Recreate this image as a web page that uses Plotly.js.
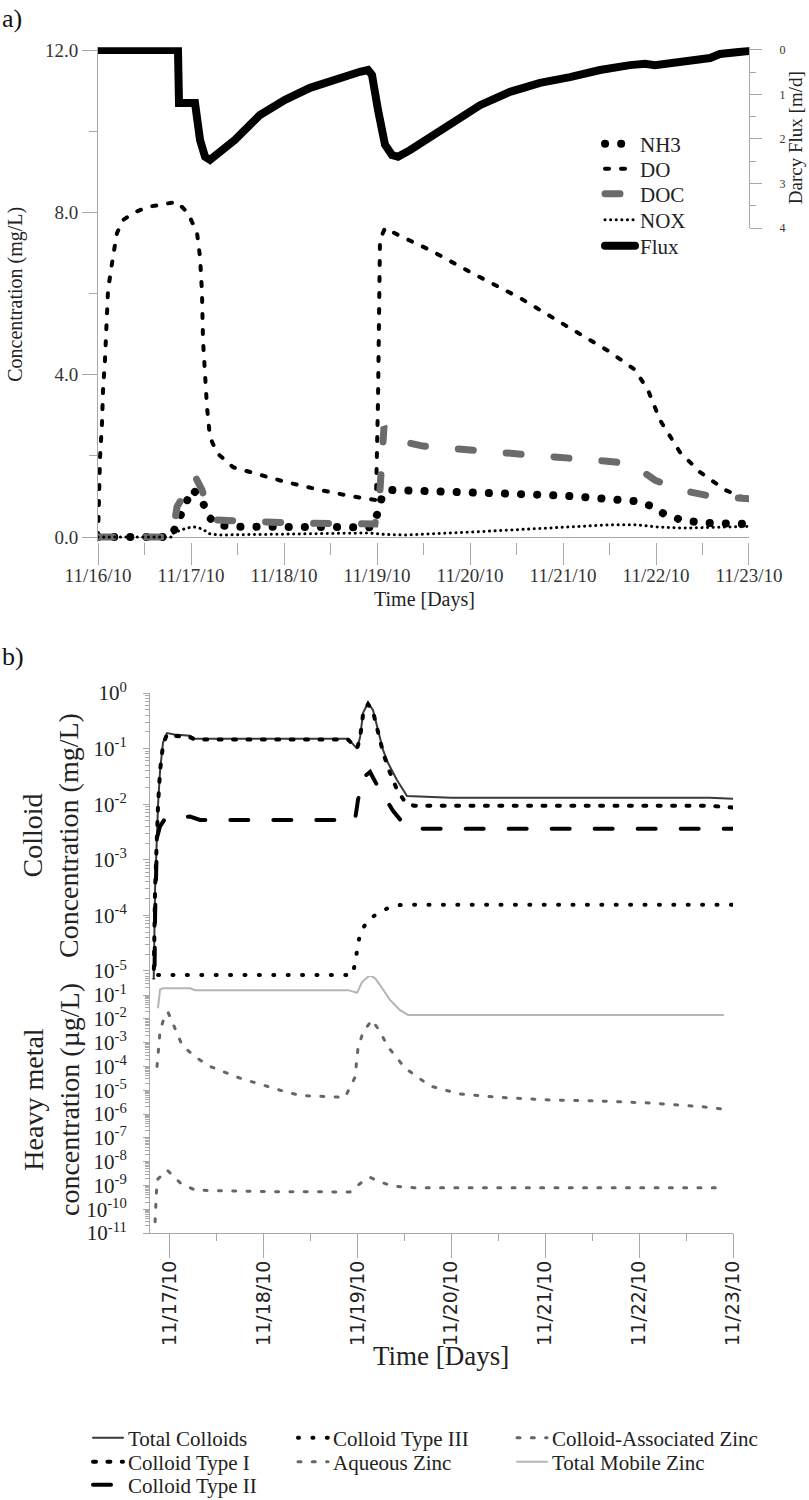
<!DOCTYPE html>
<html>
<head>
<meta charset="utf-8">
<script src="https://cdn.plot.ly/plotly-3.0.1.min.js"></script>
<style>
html,body{margin:0;padding:0;background:#fff;}
#chart{width:809px;height:1500px;}
.js-line{stroke-linecap:round;}
</style>
</head>
<body>
<div id="chart"></div>
<script>
// ---------- Panel a) : days since 11/16/10 ----------
const tickDaysA = [0,1,2,3,4,5,6,7];
const tickLabelsA = ['11/16/10','11/17/10','11/18/10','11/19/10','11/20/10','11/21/10','11/22/10','11/23/10'];
const concTickVals = [0,4,8,12];
const concTickText = ['0.0','4.0','8.0','12.0'];
const fluxTickVals = [0,1,2,3,4];

const fluxDays = [0,0.86,0.871,1.043,1.097,1.151,1.204,1.312,1.473,1.742,2.011,2.280,2.548,2.817,2.903,2.946,3.011,3.086,3.161,3.226,3.355,3.570,3.839,4.108,4.430,4.753,5.075,5.398,5.720,5.882,5.989,6.258,6.473,6.581,6.688,7.0];
const fluxVals = [0,0,1.19,1.19,2.02,2.40,2.47,2.31,2.02,1.46,1.12,0.85,0.65,0.49,0.45,0.56,1.35,2.13,2.36,2.40,2.25,1.96,1.57,1.24,0.94,0.74,0.61,0.45,0.34,0.31,0.34,0.25,0.20,0.18,0.09,0.02];

const doDays = [0,0.011,0.022,0.043,0.054,0.075,0.097,0.108,0.161,0.204,0.269,0.376,0.527,0.667,0.849,0.968,1.065,1.097,1.118,1.129,1.172,1.204,1.280,1.452,1.667,2.011,2.387,2.710,2.989,3.011,3.032,3.086,3.247,3.570,4.0,4.538,5.022,5.505,5.774,5.914,6.043,6.258,6.473,6.742,7.0];
const doVals = [0,1.23,1.97,2.81,3.62,4.36,5.27,6.09,6.90,7.49,7.81,7.98,8.13,8.18,8.26,7.98,7.49,6.90,6.04,4.85,3.20,2.46,2.07,1.72,1.58,1.36,1.16,1.01,0.91,3.38,7.32,7.61,7.42,7.07,6.53,5.89,5.22,4.56,4.12,3.62,2.88,2.09,1.60,1.16,0.91];

const nh3Days = [0,0.774,0.806,1.011,1.118,1.172,1.280,1.452,2.0,2.5,2.946,3.0,3.054,3.118,3.5,4.0,4.5,5.0,5.5,5.8,5.95,6.1,6.3,6.6,7.0];
const nh3Vals = [0,0,0.1,1.18,0.94,0.54,0.30,0.25,0.25,0.24,0.24,0.55,0.99,1.16,1.12,1.10,1.06,1.02,0.96,0.88,0.76,0.55,0.40,0.34,0.32];

const docDays = [0,0.80,0.849,0.903,1.043,1.118,1.204,1.258,1.527,2.172,2.978,3.032,3.075,3.194,3.495,4.022,4.516,5.054,5.559,5.774,5.989,6.258,6.581,7.0];
const docVals = [0,0,0.74,0.96,1.50,1.16,0.54,0.42,0.39,0.34,0.32,1.16,2.71,2.39,2.24,2.14,2.05,1.95,1.85,1.75,1.40,1.16,1.01,0.94];

const noxDays = [0,0.80,0.81,0.95,1.03,1.12,1.20,1.30,2.0,2.9,3.1,3.3,4.0,4.5,5.0,5.5,5.8,6.0,6.3,6.7,7.0];
const noxVals = [0,0,0.10,0.22,0.25,0.20,0.08,0.05,0.07,0.10,0.06,0.05,0.12,0.18,0.24,0.30,0.30,0.25,0.22,0.24,0.26];

// ---------- Panel b) : days since 11/16/10 ----------
const tickDaysB = [1,2,3,4,5,6,7];
const tickLabelsB = ['11/17/10','11/18/10','11/19/10','11/20/10','11/21/10','11/22/10','11/23/10'];
const colloidTickVals = [1,1e-1,1e-2,1e-3,1e-4,1e-5];
const colloidTickText = ['10<sup>0</sup>','10<sup>-1</sup>','10<sup>-2</sup>','10<sup>-3</sup>','10<sup>-4</sup>','10<sup>-5</sup>'];
const metalTickVals = [1e-1,1e-2,1e-3,1e-4,1e-5,1e-6,1e-7,1e-8,1e-9,1e-10,1e-11];
const metalTickText = ['10<sup>-1</sup>','10<sup>-2</sup>','10<sup>-3</sup>','10<sup>-4</sup>','10<sup>-5</sup>','10<sup>-6</sup>','10<sup>-7</sup>','10<sup>-8</sup>','10<sup>-9</sup>','10<sup>-10</sup>','10<sup>-11</sup>'];

const totalColloidDays = [0.824,0.846,0.878,0.899,0.931,0.973,1.05,1.218,1.272,2.0,2.901,2.997,3.029,3.061,3.114,3.167,3.220,3.274,3.327,3.423,3.529,4.0,5.0,6.0,6.75,7.0];
const totalColloidVals = [1e-6,3e-4,0.01,0.04,0.13,0.19,0.18,0.17,0.15,0.15,0.15,0.10,0.16,0.44,0.66,0.49,0.22,0.094,0.055,0.027,0.014,0.013,0.013,0.013,0.013,0.0125];

const typeIDays = [0.824,0.846,0.878,0.899,0.931,0.973,1.05,1.218,1.272,2.0,2.901,2.997,3.029,3.061,3.114,3.167,3.220,3.274,3.327,3.423,3.508,3.60,5.0,6.75,7.0];
const typeIVals = [1e-6,3e-4,0.01,0.04,0.12,0.18,0.17,0.16,0.145,0.145,0.145,0.10,0.155,0.42,0.63,0.46,0.20,0.085,0.045,0.018,0.011,0.0094,0.0094,0.0094,0.0087];

const typeIIDays = [0.824,0.846,0.867,0.899,0.952,1.218,1.325,2.0,2.975,3.007,3.061,3.135,3.210,3.380,3.476,3.700,5.0,7.0];
const typeIIVals = [1e-8,1e-4,2.5e-3,4e-3,5.5e-3,6e-3,5.2e-3,5.2e-3,5.2e-3,0.012,0.03,0.038,0.022,0.0076,0.0048,0.0036,0.0036,0.0036];

const typeIIIDays = [0.878,2.0,2.950,2.975,3.029,3.114,3.242,3.380,3.50,7.0];
const typeIIIVals = [8.5e-6,8.5e-6,8.5e-6,1.4e-5,4.8e-5,8.3e-5,1.15e-4,1.5e-4,1.55e-4,1.55e-4];

const mobileZnDays = [0.878,0.899,0.931,1.218,1.272,2.0,2.901,2.997,3.050,3.135,3.189,3.242,3.348,3.454,3.540,5.0,6.895];
const mobileZnVals = [0.03,0.17,0.19,0.19,0.16,0.16,0.16,0.125,0.35,0.69,0.5,0.26,0.062,0.023,0.0145,0.0145,0.0145];

const aqueousZnDays = [0.867,0.899,0.952,0.984,1.133,1.272,1.431,1.751,2.177,2.390,2.869,2.975,3.007,3.061,3.157,3.242,3.327,3.508,3.774,4.094,4.520,5.052,5.585,6.117,6.682,6.895];
const aqueousZnVals = [1e-4,3e-3,0.015,0.019,8e-4,2.5e-4,1e-4,3.2e-5,1e-5,6e-6,5e-6,3.5e-5,6e-4,2.8e-3,9e-3,2.8e-3,6.6e-4,8.5e-5,1.5e-5,6.9e-6,5e-6,3.9e-6,3.5e-6,2.9e-6,2e-6,1.6e-6];

const colloidZnDays = [0.846,0.867,0.973,1.112,1.272,2.0,2.922,3.050,3.135,3.242,3.380,3.6,5.0,6.895];
const colloidZnVals = [3e-11,1.7e-9,4.5e-9,1.3e-9,6.3e-10,5.5e-10,5.3e-10,1.4e-9,2.2e-9,1.4e-9,9.3e-10,8e-10,8e-10,8e-10];

// minor log ticks (2..9 x 10^k)
function minorLogTicks(kMin, kMax) {
  const out = [];
  for (let k = kMin; k <= kMax; k++) for (let m = 2; m <= 9; m++) out.push(m * Math.pow(10, k));
  return out;
}

const SERIF = 'Liberation Serif, Times New Roman, serif';
const AX = '#a8a8a8';

// one legend box per entry so that each entry sits where the reference puts it
function legendAt(px, py, size) {
  return {
    x: px / 809, y: 1 - py / 1500, xanchor: 'left', yanchor: 'middle',
    bgcolor: 'rgba(0,0,0,0)', borderwidth: 0, itemwidth: 30,
    font: {family: SERIF, size: size, color: '#222'}
  };
}

const traces = [
  {x: nh3Days, y: nh3Vals, name: 'NH3', mode: 'lines', xaxis: 'x', yaxis: 'y', legend: 'legend',
   line: {color: '#000', width: 8, dash: '0.1px,16px'}},
  {x: doDays, y: doVals, name: 'DO', mode: 'lines', xaxis: 'x', yaxis: 'y', legend: 'legend2',
   line: {color: '#000', width: 4, dash: '4px,12px'}},
  {x: docDays, y: docVals, name: 'DOC', mode: 'lines', xaxis: 'x', yaxis: 'y', legend: 'legend3',
   line: {color: '#6b6b6b', width: 7, dash: '15px,33px'}},
  {x: noxDays, y: noxVals, name: 'NOX', mode: 'lines', xaxis: 'x', yaxis: 'y', legend: 'legend4',
   line: {color: '#000', width: 3, dash: '0.1px,5.5px'}},
  {x: fluxDays, y: fluxVals, name: 'Flux', mode: 'lines', xaxis: 'x', yaxis: 'y2', legend: 'legend5',
   line: {color: '#000', width: 8}},

  {x: totalColloidDays, y: totalColloidVals, name: 'Total Colloids', mode: 'lines', xaxis: 'x3', yaxis: 'y3',
   legend: 'legend6', line: {color: '#3a3a3a', width: 2}},
  {x: typeIIIDays, y: typeIIIVals, name: 'Colloid Type III', mode: 'lines', xaxis: 'x3', yaxis: 'y3',
   legend: 'legend7', line: {color: '#000', width: 4, dash: '1px,13.4px'}},
  {x: colloidZnDays, y: colloidZnVals, name: 'Colloid-Associated Zinc', mode: 'lines', xaxis: 'x3', yaxis: 'y4',
   legend: 'legend8', line: {color: '#666', width: 3, dash: '3px,11.3px'}},
  {x: typeIDays, y: typeIVals, name: 'Colloid Type I', mode: 'lines', xaxis: 'x3', yaxis: 'y3',
   legend: 'legend9', line: {color: '#000', width: 4, dash: '3px,11.4px'}},
  {x: aqueousZnDays, y: aqueousZnVals, name: 'Aqueous Zinc', mode: 'lines', xaxis: 'x3', yaxis: 'y4',
   legend: 'legend10', line: {color: '#666', width: 3, dash: '3px,11.3px'}},
  {x: mobileZnDays, y: mobileZnVals, name: 'Total Mobile Zinc', mode: 'lines', xaxis: 'x3', yaxis: 'y4',
   legend: 'legend11', line: {color: '#b5b5b5', width: 2}},
  {x: typeIIDays, y: typeIIVals, name: 'Colloid Type II', mode: 'lines', xaxis: 'x3', yaxis: 'y3',
   legend: 'legend12', line: {color: '#000', width: 4, dash: '18px,25px'}}
];

const layout = {
  width: 809, height: 1500,
  margin: {l: 0, r: 0, t: 0, b: 0, autoexpand: false},
  paper_bgcolor: '#fff', plot_bgcolor: 'rgba(0,0,0,0)',
  font: {family: SERIF, color: '#222'},
  xaxis: {
    domain: [0.12114, 0.92583], range: [0, 7], anchor: 'y', automargin: false,
    tickmode: 'array', tickvals: tickDaysA, ticktext: tickLabelsA,
    ticks: 'outside', ticklen: 22, tickcolor: AX, tickwidth: 1, ticklabelstandoff: -6,
    minor: {dtick: 0.5, tick0: 0, ticks: 'outside', ticklen: 12, tickcolor: AX},
    showline: false, showgrid: false, zeroline: false,
    tickfont: {family: SERIF, size: 19, color: '#333'}
  },
  yaxis: {
    domain: [0.63875, 0.96883], range: [-0.12, 12.08], anchor: 'x', automargin: false,
    tickmode: 'array', tickvals: concTickVals, ticktext: concTickText,
    ticks: 'outside', ticklen: 15, tickcolor: AX,
    minor: {dtick: 2, tick0: 0, ticks: 'outside', ticklen: 8, tickcolor: AX},
    showline: true, linecolor: AX, linewidth: 1,
    zeroline: true, zerolinecolor: AX, zerolinewidth: 1, showgrid: false,
    tickfont: {family: SERIF, size: 19, color: '#333'},
    title: {text: 'Concentration (mg/L)', font: {family: SERIF, size: 20, color: '#222'}, standoff: 16}
  },
  yaxis2: {
    domain: [0.848, 0.96845], range: [4, -0.06], anchor: 'x', side: 'right', automargin: false,
    tickmode: 'array', tickvals: fluxTickVals,
    ticks: 'outside', ticklen: 12, tickcolor: AX, ticklabelstandoff: 15,
    minor: {dtick: 0.5, tick0: 0, ticks: 'outside', ticklen: 6, tickcolor: AX},
    showline: true, linecolor: AX, showgrid: false, zeroline: false,
    tickfont: {family: SERIF, size: 12, color: '#333'},
    title: {text: 'Darcy Flux [m/d]', font: {family: SERIF, size: 19, color: '#222'}, standoff: 3}
  },
  xaxis3: {
    domain: [0.18541, 0.90606], range: [0.792, 7.0], anchor: 'y4', automargin: false,
    tickmode: 'array', tickvals: tickDaysB, ticktext: tickLabelsB, tickangle: -90,
    ticks: 'outside', ticklen: 24, tickcolor: AX, ticklabelstandoff: -5,
    minor: {dtick: 0.5, tick0: 0, ticks: 'outside', ticklen: 7, tickcolor: AX},
    showline: true, linecolor: AX, showgrid: false, zeroline: false,
    tickfont: {family: 'DejaVu Sans, sans-serif', size: 19, color: '#222'}
  },
  yaxis3: {
    domain: [0.34713, 0.538], type: 'log', range: [-5.15, 0], anchor: 'x3', automargin: false,
    tickmode: 'array', tickvals: colloidTickVals, ticktext: colloidTickText,
    ticks: 'outside', ticklen: 6, tickcolor: AX, ticklabelstandoff: 12,
    minor: {tickmode: 'array', tickvals: minorLogTicks(-6, -1), ticks: 'outside', ticklen: 4, tickcolor: AX},
    showline: true, linecolor: AX, showgrid: false, zeroline: false,
    tickfont: {family: SERIF, size: 21, color: '#222'}
  },
  yaxis4: {
    domain: [0.178, 0.34936], type: 'log', range: [-11, -0.2], anchor: 'x3', automargin: false,
    tickmode: 'array', tickvals: metalTickVals, ticktext: metalTickText,
    ticks: 'outside', ticklen: 6, tickcolor: AX, ticklabelstandoff: 12,
    minor: {tickmode: 'array', tickvals: minorLogTicks(-11, -1), ticks: 'outside', ticklen: 4, tickcolor: AX},
    showline: true, linecolor: AX, showgrid: false, zeroline: false,
    tickfont: {family: SERIF, size: 21, color: '#222'}
  },
  // panel a legend entries
  legend: legendAt(600, 144, 21),
  legend2: legendAt(600, 169, 21),
  legend3: legendAt(600, 194, 21),
  legend4: legendAt(600, 220, 21),
  legend5: legendAt(600, 246, 21),
  // panel b legend entries (3 columns)
  legend6: legendAt(88, 1438, 21),
  legend7: legendAt(293, 1438, 21),
  legend8: legendAt(512, 1438, 21),
  legend9: legendAt(88, 1462, 21),
  legend10: legendAt(293, 1462, 21),
  legend11: legendAt(512, 1462, 21),
  legend12: legendAt(88, 1485, 21),
  annotations: [
    {text: 'a)', xref: 'paper', yref: 'paper', x: 0, y: 1 - 18/1500, xanchor: 'left', yanchor: 'middle',
     showarrow: false, font: {family: SERIF, size: 26, color: '#111'}},
    {text: 'b)', xref: 'paper', yref: 'paper', x: 0, y: 1 - 656/1500, xanchor: 'left', yanchor: 'middle',
     showarrow: false, font: {family: SERIF, size: 26, color: '#111'}},
    {text: 'Time [Days]', xref: 'paper', yref: 'paper', x: 424/809, y: 1 - 599/1500,
     xanchor: 'center', yanchor: 'middle', showarrow: false,
     font: {family: SERIF, size: 20, color: '#222'}},
    {text: 'Colloid<br>Concentration (mg/L)', xref: 'paper', yref: 'paper', x: 50/809, y: 1 - 836/1500,
     xanchor: 'center', yanchor: 'middle', textangle: -90, showarrow: false,
     font: {family: SERIF, size: 28, color: '#222'}},
    {text: 'Heavy metal<br>concentration (µg/L)', xref: 'paper', yref: 'paper', x: 51/809, y: 1 - 1100/1500,
     xanchor: 'center', yanchor: 'middle', textangle: -90, showarrow: false,
     font: {family: SERIF, size: 28, color: '#222'}},
    {text: 'Time [Days]', xref: 'paper', yref: 'paper', x: 441/809, y: 1 - 1356/1500,
     xanchor: 'center', yanchor: 'middle', showarrow: false,
     font: {family: SERIF, size: 27, color: '#222'}}
  ],
  showlegend: true
};

Plotly.newPlot('chart', traces, layout, {staticPlot: true, displayModeBar: false});
</script>
</body>
</html>
